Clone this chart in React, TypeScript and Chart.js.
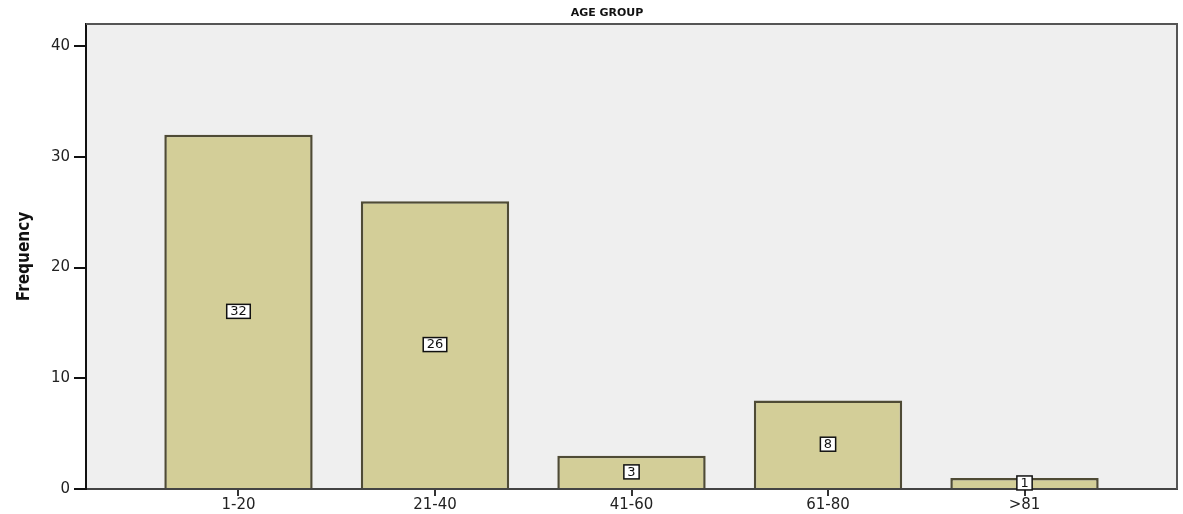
import React, { useEffect, useRef } from "react";
import { Chart, registerables } from "chart.js";

Chart.register(...registerables);

const chartTitle = "AGE GROUP";
const yAxisTitle = "Frequency";
const categories = ["1-20", "21-40", "41-60", "61-80", ">81"];
const frequencies = [32, 26, 3, 8, 1];
const yTicks = [0, 10, 20, 30, 40];
const yMax = 42;

const plotFrame = {
  id: "plotFrame",
  beforeDraw(chart: any) {
    const { ctx, chartArea: a } = chart;
    ctx.save();
    ctx.fillStyle = "#efefef";
    ctx.fillRect(a.left, a.top, a.right - a.left, a.bottom - a.top);
    ctx.restore();
  },
  afterDraw(chart: any) {
    const { ctx, chartArea: a } = chart;
    ctx.save();
    ctx.strokeStyle = "#555555";
    ctx.lineWidth = 2;
    ctx.beginPath();
    ctx.moveTo(a.left, a.top);
    ctx.lineTo(a.right, a.top);
    ctx.lineTo(a.right, a.bottom);
    ctx.stroke();
    ctx.fillStyle = "#111111";
    ctx.font = "bold 11px 'DejaVu Sans', sans-serif";
    ctx.textAlign = "center";
    ctx.textBaseline = "middle";
    ctx.fillText(chartTitle, 607, 13);
    ctx.restore();
  },
};

const valueBoxes = {
  id: "valueBoxes",
  afterDatasetsDraw(chart: any) {
    const { ctx } = chart;
    const meta = chart.getDatasetMeta(0);
    ctx.save();
    ctx.font = "13px 'DejaVu Sans', sans-serif";
    ctx.textAlign = "center";
    ctx.textBaseline = "middle";
    meta.data.forEach((bar: any, i: number) => {
      const label = String(frequencies[i]);
      const mid = (bar.y + bar.base) / 2;
      const tw = ctx.measureText(label).width;
      const w = tw + 7;
      const h = 14;
      ctx.fillStyle = "#ffffff";
      ctx.fillRect(bar.x - w / 2, mid - h / 2, w, h);
      ctx.strokeStyle = "#111111";
      ctx.lineWidth = 1.5;
      ctx.strokeRect(bar.x - w / 2, mid - h / 2, w, h);
      ctx.fillStyle = "#111111";
      ctx.fillText(label, bar.x, mid + 0.5);
    });
    ctx.restore();
  },
};

export default function App() {
  const ref = useRef<HTMLCanvasElement | null>(null);

  useEffect(() => {
    if (!ref.current) return;
    const chart = new Chart(ref.current, {
      type: "bar",
      data: {
        datasets: [
          {
            data: frequencies.map((v, i) => ({ x: i, y: v })),
            backgroundColor: "#d3ce98",
            borderColor: "#4f4b35",
            borderWidth: 2.5,
            barPercentage: 0.755,
            categoryPercentage: 1,
          },
        ],
      },
      options: {
        animation: false,
        responsive: true,
        maintainAspectRatio: false,
        layout: { padding: { top: 24, right: 6, left: 0, bottom: 0 } },
        plugins: {
          legend: { display: false },
          tooltip: { enabled: false },
          title: { display: false },
        },
        scales: {
          x: {
            type: "linear",
            min: -0.776,
            max: 4.776,
            offset: false,
            afterBuildTicks: (scale: any) => {
              scale.ticks = categories.map((_, i) => ({ value: i }));
            },
            afterFit: (scale: any) => {
              scale.height = 25;
            },
            ticks: {
              callback: (v: any) => categories[Math.round(Number(v))] ?? "",
              color: "#222222",
              font: { family: "'DejaVu Sans', sans-serif", size: 15 },
              padding: 0,
              maxRotation: 0,
              autoSkip: false,
            },
            grid: {
              display: true,
              offset: false,
              drawOnChartArea: false,
              drawTicks: true,
              tickLength: 7,
              color: "#333333",
              lineWidth: 2,
            },
            border: { display: true, color: "#444444", width: 2 },
          },
          y: {
            min: 0,
            max: yMax,
            afterBuildTicks: (scale: any) => {
              scale.ticks = yTicks.map((v) => ({ value: v }));
            },
            afterFit: (scale: any) => {
              scale.width = 86;
            },
            ticks: {
              color: "#222222",
              font: { family: "'DejaVu Sans', sans-serif", size: 15 },
              padding: 4,
            },
            grid: {
              display: true,
              drawOnChartArea: false,
              drawTicks: true,
              tickLength: 12,
              color: "#111111",
              lineWidth: 2,
            },
            border: { display: true, color: "#111111", width: 2 },
            title: {
              display: true,
              text: yAxisTitle,
              color: "#111111",
              font: {
                family: "'Liberation Sans Narrow', 'DejaVu Sans Condensed', sans-serif",
                size: 17,
                weight: "bold",
              },
              padding: { top: 14, bottom: 0 },
            },
          },
        },
      },
      plugins: [plotFrame, valueBoxes],
    } as any);
    return () => chart.destroy();
  }, []);

  return (
    <div style={{ position: "fixed", left: 0, top: 0, width: 1183, height: 514, background: "#ffffff" }}>
      <canvas ref={ref} />
    </div>
  );
}
